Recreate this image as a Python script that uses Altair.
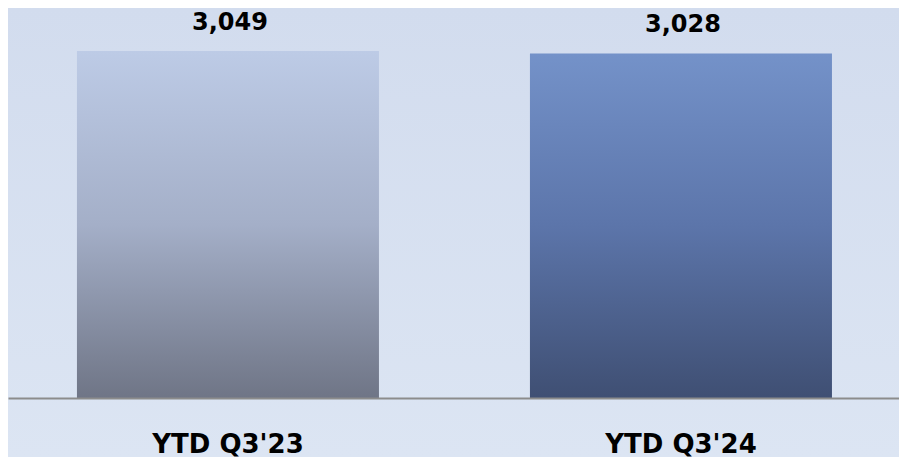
import altair as alt
import pandas as pd

categories = ["YTD Q3'23", "YTD Q3'24"]
values = [3049, 3028]
value_labels = ["3,049", "3,028"]

bar_tops = ["#bdcbe6", "#7492c9"]
bar_mids = ["#a4afc8", "#5c75aa"]
bar_bottoms = ["#6f7586", "#3f4f73"]

df = pd.DataFrame({"cat": categories, "value": values, "label": value_labels})

W, H = 891, 390
TOTAL_H = 449

xscale = alt.Scale(domain=categories, paddingInner=0.3333, paddingOuter=0.1501, align=0.507)
yscale = alt.Scale(domain=[0, 3427], nice=False, zero=True)

bg = alt.Chart(pd.DataFrame({"a": [0]})).mark_rect(
    color=alt.Gradient(
        gradient="linear",
        stops=[alt.GradientStop(color="#d2dcee", offset=0),
               alt.GradientStop(color="#dce5f3", offset=1)],
        x1=0, x2=0, y1=0, y2=1,
    )
).encode(x=alt.value(0), x2=alt.value(W), y=alt.value(0), y2=alt.value(TOTAL_H))

xaxis = alt.Axis(title=None, ticks=False, domainColor="#8c8c8c", domainWidth=2,
                 labelFont="DejaVu Sans", labelFontWeight="bold", labelFontSize=26,
                 labelColor="#000000", labelPadding=33, labelAngle=0, grid=False, zindex=2)

layers = [bg]
for i, c in enumerate(categories):
    sub = df[df["cat"] == c]
    bar = alt.Chart(sub).mark_bar(
        color=alt.Gradient(
            gradient="linear",
            stops=[alt.GradientStop(color=bar_tops[i], offset=0),
                   alt.GradientStop(color=bar_mids[i], offset=0.5),
                   alt.GradientStop(color=bar_bottoms[i], offset=1)],
            x1=0, x2=0, y1=0, y2=1,
        )
    ).encode(
        x=alt.X("cat:N", scale=xscale, sort=categories, axis=xaxis),
        y=alt.Y("value:Q", scale=yscale, axis=None),
    )
    layers.append(bar)

text = alt.Chart(df).mark_text(
    font="DejaVu Sans", fontWeight="bold", fontSize=24, color="#000000",
    baseline="alphabetic", dy=-21, dx=2,
).encode(
    x=alt.X("cat:N", scale=xscale, sort=categories, axis=xaxis),
    y=alt.Y("value:Q", scale=yscale, axis=None),
    text="label:N",
)
layers.append(text)

chart = alt.layer(*layers).properties(
    width=W, height=H,
    autosize=alt.AutoSizeParams(type="none"),
    padding={"left": 0, "right": 0, "top": 0, "bottom": TOTAL_H - H},
    background="#d8e2f1",
).configure_view(stroke=None)

chart.save("out.html", embed_options={"renderer": "svg", "actions": False})
